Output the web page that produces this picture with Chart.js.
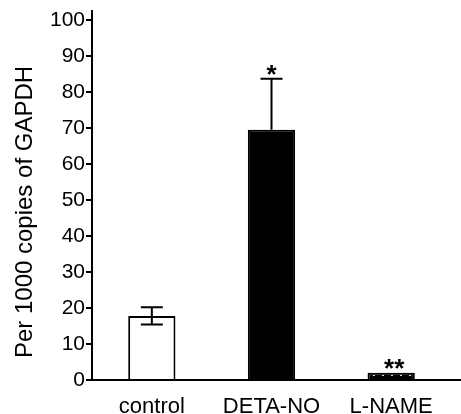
<!DOCTYPE html>
<html>
<head>
<meta charset="utf-8">
<script src="https://cdn.jsdelivr.net/npm/chart.js@4.4.1/dist/chart.umd.min.js"></script>
<style>
html,body{margin:0;padding:0;background:#fff;}
#wrap{width:461px;height:414px;position:relative;}
</style>
</head>
<body>
<div id="wrap"><canvas id="c" width="461" height="414"></canvas></div>
<script>
const categories = ["control", "DETA-NO", "L-NAME"];
const means = [17.8, 69.5, 2.0];
const errUp = [2.4, 14.2, 0];
const errDown = [2.4, 0, 0];
const marks = ["", "*", "**"];
const yTickValues = [0, 10, 20, 30, 40, 50, 60, 70, 80, 90, 100];
const yTitle = "Per 1000 copies of GAPDH";

const FONT = "'Liberation Sans', Arial, sans-serif";

function dotPattern(chart, value) {
  const y = chart.scales.y;
  const yMid = Math.round(y.getPixelForValue(value / 2));
  const c = document.createElement('canvas');
  c.width = 9; c.height = chart.height;
  const g = c.getContext('2d');
  g.fillStyle = '#000';
  g.fillRect(0, 0, c.width, c.height);
  g.fillStyle = '#ddd';
  g.fillRect(4, yMid - 1, 2, 1);
  return g.createPattern(c, 'repeat');
}

const fills = ['#ffffff', '#000000', 'pattern'];

const decor = {
  id: 'decor',
  afterDatasetsDraw(chart) {
    const ctx = chart.ctx;
    const ys = chart.scales.y;
    const ca = chart.chartArea;
    const meta = chart.getDatasetMeta(0);
    ctx.save();
    ctx.strokeStyle = '#000';
    ctx.fillStyle = '#000';
    ctx.lineWidth = 2;
    // error bars
    meta.data.forEach((bar, i) => {
      const x = bar.x;
      const top = ys.getPixelForValue(means[i] + errUp[i]);
      const bot = ys.getPixelForValue(means[i] - errDown[i]);
      const cap = 11;
      if (errUp[i] > 0 || errDown[i] > 0) {
        ctx.beginPath();
        ctx.moveTo(x, top); ctx.lineTo(x, bot);
        if (errUp[i] > 0) { ctx.moveTo(x - cap, top); ctx.lineTo(x + cap, top); }
        if (errDown[i] > 0) { ctx.moveTo(x - cap, bot); ctx.lineTo(x + cap, bot); }
        ctx.stroke();
      }
      if (marks[i]) {
        ctx.font = "bold 26px " + FONT;
        ctx.textAlign = 'center';
        ctx.textBaseline = 'alphabetic';
        const shift = marks[i].length > 1 ? 3 : 0;
        ctx.fillText(marks[i], x + shift, top + 4);
      }
    });
    // axis lines
    ctx.beginPath();
    ctx.moveTo(ca.left - 1, ca.bottom);
    ctx.lineTo(chart.width, ca.bottom);
    ctx.moveTo(ca.left, ca.bottom + 1);
    ctx.lineTo(ca.left, ca.top - 10);
    ctx.stroke();
    // y title
    ctx.font = "24px " + FONT;
    ctx.textAlign = 'center';
    ctx.textBaseline = 'middle';
    ctx.translate(25, 212);
    ctx.rotate(-Math.PI / 2);
    ctx.fillText(yTitle, 0, 0);
    ctx.restore();
  }
};

new Chart(document.getElementById('c'), {
  type: 'bar',
  data: {
    labels: categories,
    datasets: [{
      data: means,
      backgroundColor: (ctx) => {
        const i = ctx.dataIndex;
        if (fills[i] === 'pattern') return dotPattern(ctx.chart, means[i]);
        return fills[i];
      },
      borderColor: '#000',
      borderWidth: 2,
      barPercentage: 0.395,
      categoryPercentage: 1.0
    }]
  },
  options: {
    responsive: false,
    animation: false,
    devicePixelRatio: 1,
    layout: { padding: { top: 20, right: 10, left: 0, bottom: 0 } },
    plugins: { legend: { display: false }, tooltip: { enabled: false } },
    scales: {
      x: {
        type: 'category',
        grid: { display: false, drawTicks: false },
        border: { display: false },
        ticks: { color: '#000', font: { size: 22, family: FONT }, padding: 14, maxRotation: 0 },
        afterFit(scale) { scale.height = 34; }
      },
      y: {
        min: 0, max: 100,
        afterBuildTicks(scale) { scale.ticks = yTickValues.map(v => ({ value: v })); },
        grid: { display: true, drawOnChartArea: false, drawTicks: true, tickLength: 6, color: '#000', lineWidth: 2 },
        border: { display: false },
        ticks: { color: '#000', font: { size: 21, family: FONT }, padding: 1 },
        afterFit(scale) { scale.width = 92; }
      }
    }
  },
  plugins: [decor]
});
</script>
</body>
</html>
